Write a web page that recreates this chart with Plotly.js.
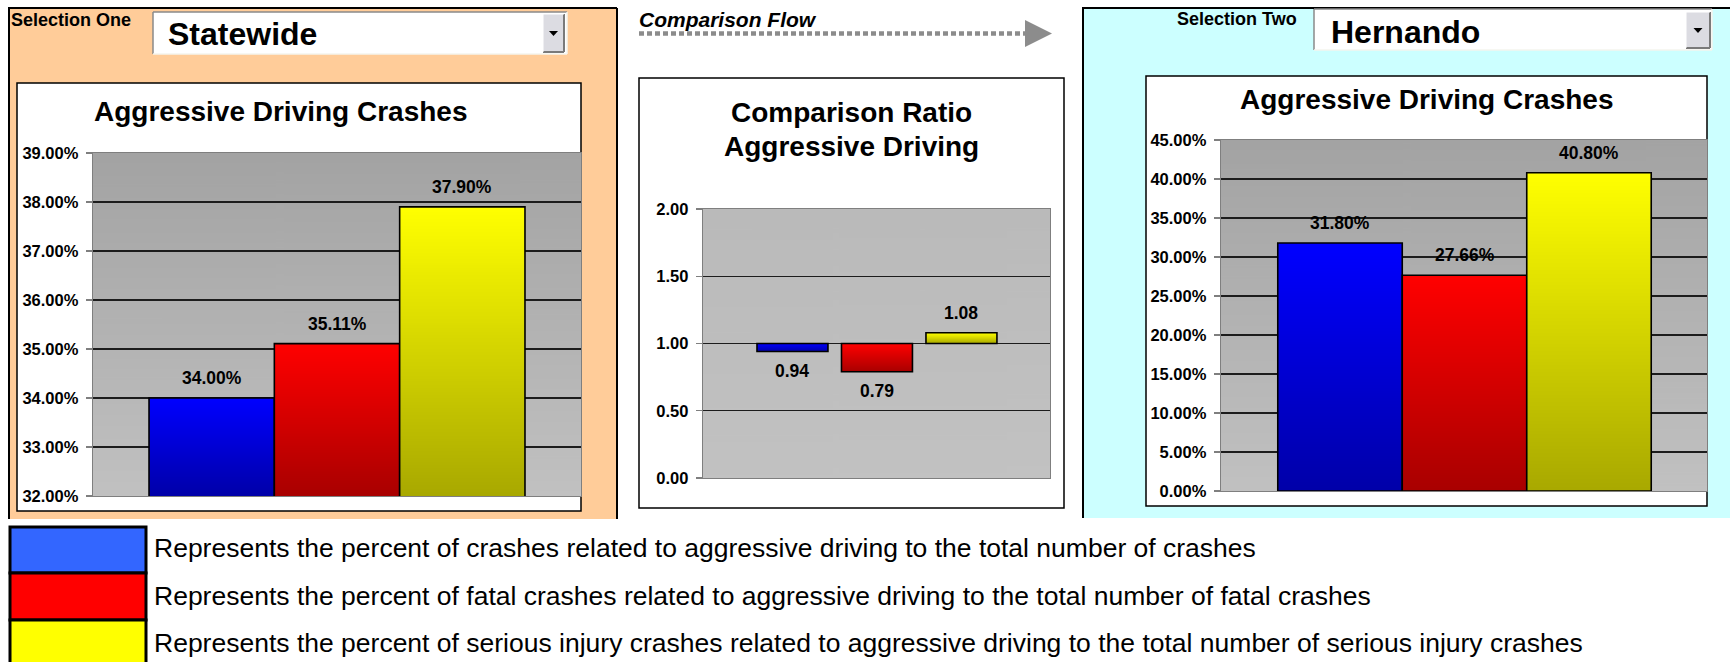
<!DOCTYPE html>
<html><head><meta charset="utf-8">
<script src="https://cdn.plot.ly/plotly-3.0.1.min.js"></script>
<style>html,body{margin:0;padding:0;background:#fff;overflow:hidden}#chart{width:1730px;height:662px}</style>
</head><body><div id="chart"></div>
<script>
// ---------------- data ----------------
const seriesNames = ['All crashes', 'Fatal crashes', 'Serious injury crashes'];
const seriesColors = ['#0000ff', '#ff0000', '#ffff00'];
const legendColors = ['#3366ff', '#ff0000', '#ffff00'];
const selectionOneLabel = 'Selection One';
const selectionTwoLabel = 'Selection Two';
const selectionOne = 'Statewide';
const selectionTwo = 'Hernando';
const statewideValues = [0.34, 0.3511, 0.379];
const hernandoValues = [0.318, 0.2766, 0.408];
const ratioValues = [0.94, 0.79, 1.08];
const chartTitle = 'Aggressive Driving Crashes';
const ratioTitle = ['Comparison Ratio', 'Aggressive Driving'];
const flowLabel = 'Comparison Flow';
const legendTexts = [
  'Represents the percent of crashes related to aggressive driving to the total number of crashes',
  'Represents the percent of fatal crashes related to aggressive driving to the total number of fatal crashes',
  'Represents the percent of serious injury crashes related to aggressive driving to the total number of serious injury crashes'
];

// ---------------- layout helpers ----------------
const W = 1730, H = 662;
const FONT = 'Liberation Sans, Arial, Helvetica, sans-serif';
const px = x => x / W;
const py = y => 1 - y / H;
const idx = seriesNames.map((_, i) => i);

function gradient(stops) {
  const c = document.createElement('canvas');
  c.width = 4; c.height = 256;
  const ctx = c.getContext('2d');
  const g = ctx.createLinearGradient(0, 0, 0, 256);
  stops.forEach(([o, col]) => g.addColorStop(o, col));
  ctx.fillStyle = g; ctx.fillRect(0, 0, 4, 256);
  return c.toDataURL('image/png');
}
const barShade = gradient([[0, 'rgba(0,0,0,0)'], [1, 'rgba(0,0,0,0.34)']]);
const sideBg = gradient([[0, '#a3a3a3'], [1, '#c1c1c1']]);
const midBg = gradient([[0, '#bababa'], [1, '#c2c2c2']]);

// chart geometry (layout, not data)
const charts = [
  {ax: 'x', ay: 'y', values: statewideValues, base: null, xr: [-0.947, 2.947], yr: [0.32, 0.39], dtick: 0.01, fmt: '.2%',
   dom: [93, 581, 153, 496], width: 1, bg: sideBg, label: v => (v * 100).toFixed(2) + '%'},
  {ax: 'x2', ay: 'y2', values: ratioValues, base: 1, xr: [-1.059, 3.048], yr: [0, 2], dtick: 0.5, fmt: '.2f',
   dom: [703, 1050, 209, 478], width: 0.84, bg: midBg, label: v => v.toFixed(2)},
  {ax: 'x3', ay: 'y3', values: hernandoValues, base: null, xr: [-0.956, 2.948], yr: [0, 0.45], dtick: 0.05, fmt: '.2%',
   dom: [1221, 1707, 140, 491], width: 1, bg: sideBg, label: v => (v * 100).toFixed(2) + '%'}
];

const traces = [];
const images = [];
const annotations = [];
const layout = {
  width: W, height: H, margin: {l: 0, r: 0, t: 0, b: 0},
  paper_bgcolor: '#ffffff', plot_bgcolor: 'rgba(0,0,0,0)', showlegend: false,
  font: {family: FONT, color: '#000'}
};

charts.forEach((c, k) => {
  const sfx = k === 0 ? '' : String(k + 1);
  const base = c.base;
  traces.push({
    type: 'bar', x: idx, y: base === null ? c.values : c.values.map(v => v - base),
    base: base === null ? undefined : base,
    width: c.width, xaxis: c.ax, yaxis: c.ay, hoverinfo: 'skip',
    marker: {color: seriesColors, line: {color: '#000', width: 1.6}}
  });
  layout['xaxis' + sfx] = {
    domain: [px(c.dom[0]), px(c.dom[1])], range: c.xr, anchor: c.ay,
    showline: true, mirror: true, linecolor: '#7f7f7f', linewidth: 1.3,
    showgrid: false, zeroline: false, showticklabels: false, ticks: '', fixedrange: true
  };
  layout['yaxis' + sfx] = {
    domain: [py(c.dom[3]), py(c.dom[2])], range: c.yr, anchor: c.ax, dtick: c.dtick, tick0: 0, tickformat: c.fmt,
    showline: true, mirror: true, linecolor: '#7f7f7f', linewidth: 1.3,
    showgrid: true, gridcolor: '#1c1c1c', gridwidth: 1.3, zeroline: false,
    ticks: 'outside', ticklen: 6, tickwidth: 1.3, tickcolor: '#7f7f7f', ticklabelstandoff: 4,
    tickfont: {family: FONT, size: 16.5, color: '#000', weight: 'bold'}, fixedrange: true
  };
  // plot area gradient background
  images.push({source: c.bg, xref: c.ax, yref: c.ay, x: c.xr[0], y: c.yr[1],
    sizex: c.xr[1] - c.xr[0], sizey: c.yr[1] - c.yr[0], sizing: 'stretch',
    xanchor: 'left', yanchor: 'top', layer: 'below'});
  // bar gradient shading + value labels
  c.values.forEach((v, i) => {
    const b = base === null ? c.yr[0] : base;
    const top = Math.max(v, b), bot = Math.min(v, b);
    images.push({source: barShade, xref: c.ax, yref: c.ay, x: i - c.width / 2, y: top,
      sizex: c.width, sizey: top - bot, sizing: 'stretch', xanchor: 'left', yanchor: 'top', layer: 'above'});
    const below = base !== null && v < base;
    annotations.push({xref: c.ax, yref: c.ay, x: i, y: v, text: c.label(v), showarrow: false,
      xanchor: 'center', yanchor: below ? 'top' : 'bottom', yshift: below ? -7 : 8,
      font: {family: FONT, size: 17.5, color: '#000', weight: 'bold'}});
  });
});

// ---------------- decorative frame (shapes) ----------------
const shapes = [];
const rect = (x0, y0, x1, y1, fill, line, lw) => shapes.push({type: 'rect', xref: 'paper', yref: 'paper', layer: 'below',
  x0: px(x0), x1: px(x1), y0: py(y1), y1: py(y0), fillcolor: fill, line: {color: line || 'rgba(0,0,0,0)', width: lw || 0}});
const seg = (x0, y0, x1, y1, col, lw, dash) => shapes.push({type: 'line', xref: 'paper', yref: 'paper', layer: 'below',
  x0: px(x0), x1: px(x1), y0: py(y0), y1: py(y1), line: {color: col, width: lw, dash: dash || 'solid'}});
const poly = (pts, fill) => shapes.push({type: 'path', xref: 'paper', yref: 'paper', layer: 'below',
  path: 'M' + pts.map(p => px(p[0]) + ',' + py(p[1])).join(' L') + ' Z', fillcolor: fill, line: {width: 0}});

// panels
rect(9, 8, 617, 519, '#ffcc99');
seg(9, 519, 9, 8, '#000', 2); seg(8, 8, 617, 8, '#000', 2); seg(617, 8, 617, 519, '#000', 2);
rect(1083, 8, 1730, 518, '#ccffff');
seg(1083, 518, 1083, 8, '#000', 2); seg(1082, 8, 1730, 8, '#000', 2);
// chart boxes
rect(17, 83, 581, 511, '#ffffff', '#000', 1.5);
rect(639, 78, 1064, 508, '#ffffff', '#000', 1.5);
rect(1146, 76, 1707, 506, '#ffffff', '#000', 1.5);
// dropdowns
function dropdown(x0, y0, x1, y1, bx0, by0, bx1, by1) {
  rect(x0, y0, x1, y1, '#ffffff');
  seg(x0, y0, x1, y0, '#8a8a8a', 1.5); seg(x0, y0, x0, y1, '#8a8a8a', 1.5);
  seg(x0, y1, x1, y1, '#f4f4ee', 1.5); seg(x1, y0, x1, y1, '#f4f4ee', 1.5);
  rect(bx0, by0, bx1, by1, '#dcdce2');
  seg(bx0, by1, bx1, by1, '#7a7a7a', 2); seg(bx1, by0, bx1, by1, '#7a7a7a', 2);
  seg(bx0, by0, bx1, by0, '#ffffff', 1); seg(bx0, by0, bx0, by1, '#ffffff', 1);
  const cx = (bx0 + bx1) / 2, cy = (by0 + by1) / 2;
  poly([[cx - 4.5, cy - 2], [cx + 4.5, cy - 2], [cx, cy + 3]], '#000');
}
dropdown(153, 12, 567, 54, 543, 14, 564, 52);
dropdown(1314, 9, 1712, 50, 1686, 12, 1710, 48);
// comparison-flow arrow
seg(639, 33.5, 1025, 33.5, '#8c8c8c', 4.5, '5px,3px');
poly([[1025, 20], [1052, 33.5], [1025, 47]], '#8c8c8c');
// legend swatches
const swY = [527, 573, 620, 667];
legendColors.forEach((col, i) => rect(10, swY[i], 146, swY[i + 1], col, '#000', 3));

// ---------------- text ----------------
const txt = (x, y, text, size, opts) => annotations.push(Object.assign({xref: 'paper', yref: 'paper',
  x: px(x), y: py(y), text: text, showarrow: false, xanchor: 'left', yanchor: 'middle',
  font: {family: FONT, size: size, color: '#000', weight: 'bold'}}, opts || {}));
txt(9, 20, selectionOneLabel, 18);
txt(166, 34, selectionOne, 32);
txt(1175, 19, selectionTwoLabel, 18);
txt(1329, 32, selectionTwo, 32);
txt(637, 19, flowLabel, 21, {font: {family: FONT, size: 21, color: '#000', weight: 'bold', style: 'italic'}});
txt(281, 111, chartTitle, 28, {xanchor: 'center'});
txt(1427, 99, chartTitle, 28, {xanchor: 'center'});
txt(851, 112, ratioTitle[0], 28, {xanchor: 'center'});
txt(851, 146, ratioTitle[1], 28, {xanchor: 'center'});
const legY = [548, 596, 643];
legendTexts.forEach((t, i) => txt(152, legY[i], t, 26.5, {font: {family: FONT, size: 26.5, color: '#000', weight: 'normal'}}));

layout.shapes = shapes;
layout.images = images;
layout.annotations = annotations;

Plotly.newPlot('chart', traces, layout, {staticPlot: true, displayModeBar: false});
</script>
</body></html>
